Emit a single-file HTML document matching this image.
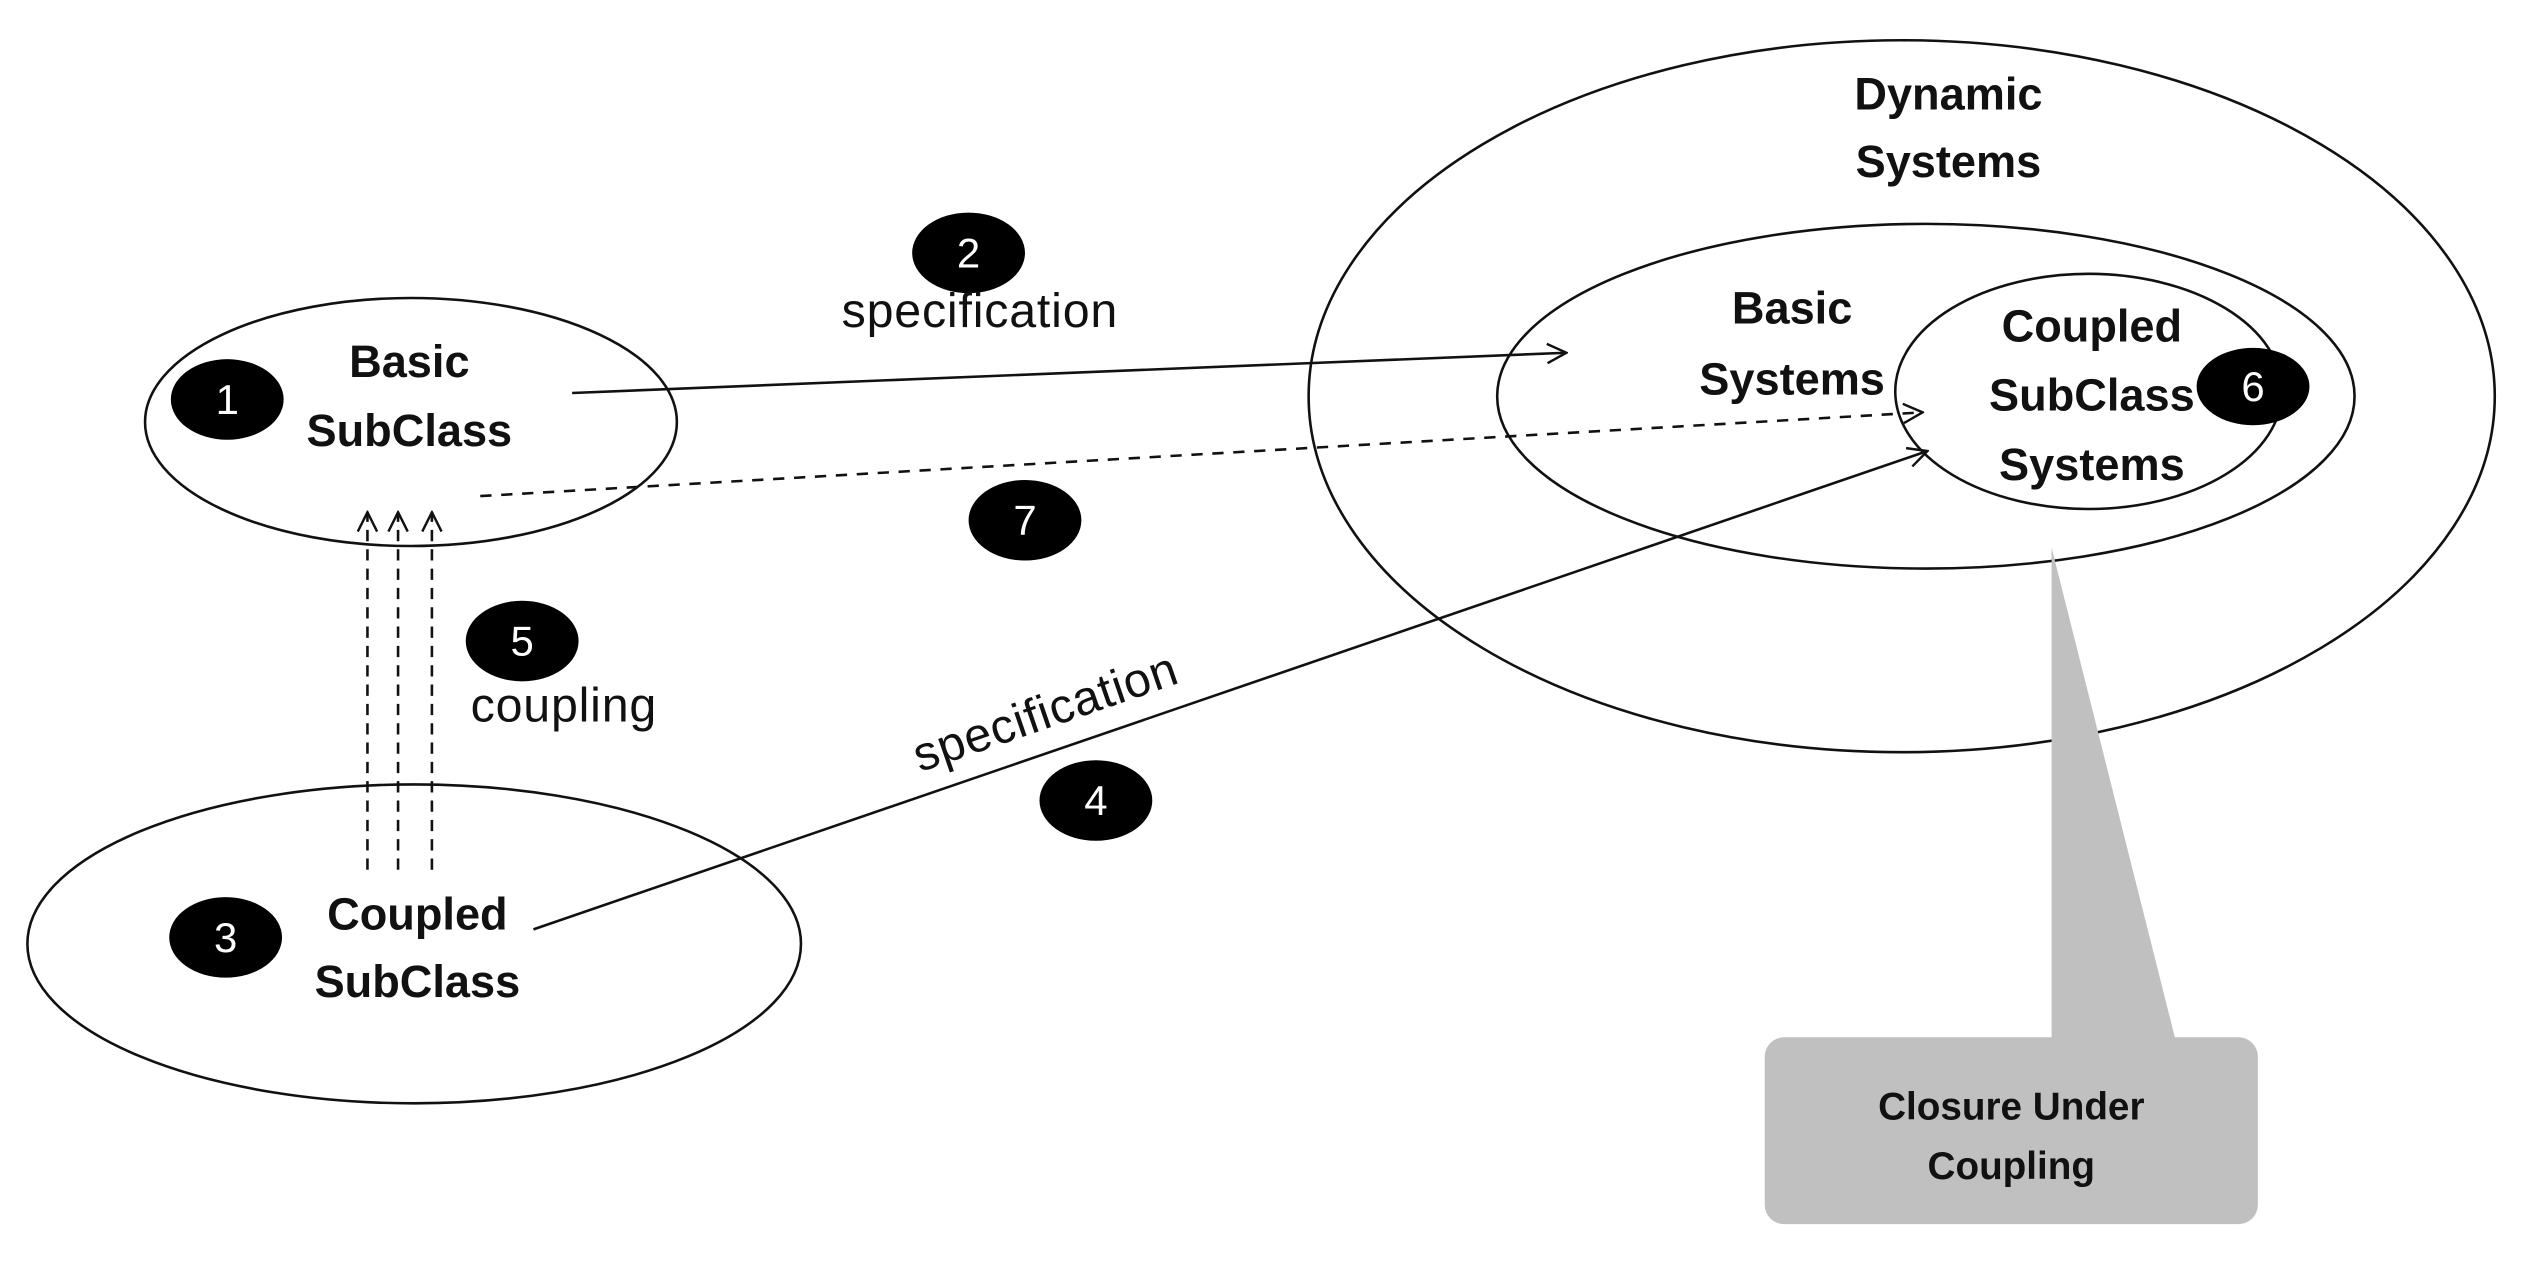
<!DOCTYPE html>
<html><head><meta charset="utf-8"><style>
html,body{margin:0;padding:0;background:#fff;}
svg{display:block;}
text{font-family:"Liberation Sans",sans-serif;}
.b{font-weight:bold;font-size:28px;fill:#111;}
.n{font-size:30px;fill:#111;letter-spacing:0.5px;}
.w{font-size:26px;fill:#fff;}
</style></head><body>
<svg width="2527" height="1266" viewBox="0 0 1568 786" preserveAspectRatio="none" xmlns="http://www.w3.org/2000/svg">
<defs>
<marker id="a" markerWidth="14" markerHeight="14" refX="13" refY="7" orient="auto" markerUnits="userSpaceOnUse">
<path d="M1,1 L13,7 L1,13" fill="none" stroke="#111" stroke-width="1.5"/>
</marker>
</defs>
<g fill="none" stroke="#111" stroke-width="1.6">
<ellipse cx="255" cy="262" rx="165" ry="77"/>
<ellipse cx="257" cy="586" rx="240" ry="99"/>
<ellipse cx="1180" cy="246" rx="368" ry="221"/>
<ellipse cx="1195" cy="246" rx="266" ry="107"/>
<ellipse cx="1296" cy="243" rx="120" ry="73"/>
<line x1="355" y1="244" x2="972" y2="219" marker-end="url(#a)"/>
<line x1="298" y1="308" x2="1193" y2="256" stroke-dasharray="7,6" marker-end="url(#a)"/>
<line x1="331" y1="577" x2="1196" y2="280" marker-end="url(#a)"/>
<line x1="228" y1="540" x2="228" y2="318" stroke-dasharray="7,5" marker-end="url(#a)"/>
<line x1="247" y1="540" x2="247" y2="318" stroke-dasharray="7,5" marker-end="url(#a)"/>
<line x1="268" y1="540" x2="268" y2="318" stroke-dasharray="7,5" marker-end="url(#a)"/>
</g>
<polygon points="1273,340 1273,650 1351,650" fill="#c0c0c0"/>
<rect x="1095" y="644" width="306" height="116" rx="12" fill="#c0c0c0"/>
<g fill="#000">
<ellipse cx="141" cy="248" rx="35" ry="25"/>
<ellipse cx="601" cy="157" rx="35" ry="25"/>
<ellipse cx="140" cy="582" rx="35" ry="25"/>
<ellipse cx="680" cy="497" rx="35" ry="25"/>
<ellipse cx="324" cy="398" rx="35" ry="25"/>
<ellipse cx="636" cy="323" rx="35" ry="25"/>
<ellipse cx="1398" cy="240" rx="35" ry="24"/>
</g>
<g text-anchor="middle" class="w">
<text x="141" y="257" class="w">1</text>
<text x="601" y="166" class="w">2</text>
<text x="140" y="591" class="w">3</text>
<text x="680" y="506" class="w">4</text>
<text x="324" y="407" class="w">5</text>
<text x="636" y="332" class="w">7</text>
<text x="1398" y="249" class="w">6</text>
</g>
<g text-anchor="middle">
<text x="254" y="234" class="b">Basic</text>
<text x="254" y="277" class="b">SubClass</text>
<text x="259" y="577" class="b">Coupled</text>
<text x="259" y="619" class="b">SubClass</text>
<text x="1209" y="68" class="b">Dynamic</text>
<text x="1209" y="110" class="b">Systems</text>
<text x="1112" y="201" class="b">Basic</text>
<text x="1112" y="245" class="b">Systems</text>
<text x="1298" y="212" class="b">Coupled</text>
<text x="1298" y="255" class="b">SubClass</text>
<text x="1298" y="298" class="b">Systems</text>
<text x="1248" y="695" class="b" style="font-size:24px">Closure Under</text>
<text x="1248" y="732" class="b" style="font-size:24px">Coupling</text>
<text x="608" y="203" class="n">specification</text>
<text x="649" y="452" class="n" transform="rotate(-19 649 443)">specification</text>
</g>
<text x="292" y="448" class="n">coupling</text>
</svg>
</body></html>
